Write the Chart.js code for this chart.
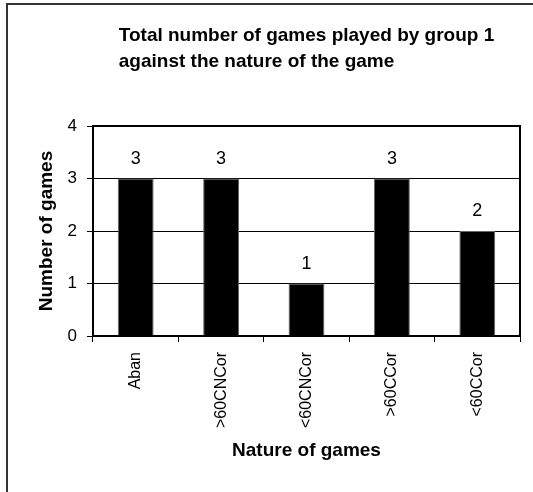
<!DOCTYPE html>
<html>
<head>
<meta charset="utf-8">
<script src="https://cdn.jsdelivr.net/npm/chart.js@4"></script>
<style>
  html, body { margin: 0; padding: 0; background: #fff; }
  #wrap { position: relative; width: 533px; height: 492px; overflow: hidden; }
  #frame { position: absolute; left: 6px; top: 3px; width: 600px; height: 600px;
           border-left: 2px solid #333; border-top: 2px solid #333; }
  #gamesChart { position: absolute; left: 0; top: 0; }
</style>
</head>
<body>
<div id="wrap">
  <div id="frame"></div>
  <canvas id="gamesChart" width="533" height="492"></canvas>
</div>
<script>
const categories = ["Aban", ">60CNCor", "<60CNCor", ">60CCor", "<60CCor"];
const gameCounts = [3, 3, 1, 3, 2];
const yTicks = [0, 1, 2, 3, 4];
const titleLines = ["Total number of games played by group 1", "against the nature of the game"];

const FONT = "'Liberation Sans', Arial, Helvetica, sans-serif";

// title block, left aligned, centred over the plot area
const titlePlugin = {
  id: "blockTitle",
  afterDraw(chart) {
    const { ctx, chartArea } = chart;
    ctx.save();
    ctx.font = "bold 19px " + FONT;
    ctx.fillStyle = "#000";
    ctx.textBaseline = "alphabetic";
    ctx.textAlign = "left";
    const maxW = Math.max(...titleLines.map(t => ctx.measureText(t).width));
    const x0 = (chartArea.left + chartArea.right) / 2 - maxW / 2;
    titleLines.forEach((t, i) => ctx.fillText(t, x0, 41 + i * 26));
    ctx.restore();
  }
};

// value labels above bars
const valueLabels = {
  id: "valueLabels",
  afterDatasetsDraw(chart) {
    const { ctx } = chart;
    const meta = chart.getDatasetMeta(0);
    ctx.save();
    ctx.font = "18px " + FONT;
    ctx.fillStyle = "#000";
    ctx.textAlign = "center";
    ctx.textBaseline = "alphabetic";
    meta.data.forEach((bar, i) => {
      ctx.fillText(String(gameCounts[i]), bar.x, bar.y - 15);
    });
    ctx.restore();
  }
};

// black top/right edge of the plot area
const plotFrame = {
  id: "plotFrame",
  afterDraw(chart) {
    const { ctx, chartArea: a } = chart;
    ctx.save();
    ctx.strokeStyle = "#000";
    ctx.lineWidth = 2;
    ctx.beginPath();
    ctx.moveTo(a.left, a.top);
    ctx.lineTo(a.right, a.top);
    ctx.lineTo(a.right, a.bottom);
    ctx.stroke();
    ctx.restore();
  }
};

const ctx = document.getElementById("gamesChart").getContext("2d");

new Chart(ctx, {
  type: "bar",
  data: {
    labels: categories,
    datasets: [{
      label: "Number of games",
      data: gameCounts,
      backgroundColor: "#000",
      borderColor: "#666",
      borderWidth: 1,
      barPercentage: 0.42,
      categoryPercentage: 1
    }]
  },
  options: {
    responsive: false,
    animation: false,
    layout: { padding: { left: 0, right: 13, top: 126, bottom: 0 } },
    plugins: {
      legend: { display: false },
      title: { display: false },
      tooltip: { enabled: false }
    },
    scales: {
      x: {
        afterFit(scale) { scale.height = 156; },
        grid: { drawOnChartArea: false, drawTicks: true, tickLength: 6, color: "#000" },
        border: { display: true, color: "#000", width: 2 },
        ticks: {
          color: "#000",
          font: { family: FONT, size: 16 },
          minRotation: 90,
          maxRotation: 90,
          autoSkip: false,
          padding: 10
        },
        title: {
          display: true,
          text: "Nature of games",
          color: "#000",
          font: { family: FONT, size: 19, weight: "bold" },
          padding: { top: 0, bottom: 30 }
        }
      },
      y: {
        min: yTicks[0],
        max: yTicks[yTicks.length - 1],
        afterFit(scale) { scale.width = 93; },
        afterBuildTicks(scale) { scale.ticks = yTicks.map(v => ({ value: v })); },
        grid: { color: "#000", lineWidth: 1, tickLength: 6 },
        border: { display: true, color: "#000", width: 2 },
        ticks: {
          color: "#000",
          font: { family: FONT, size: 17 },
          padding: 10
        },
        title: {
          display: true,
          text: "Number of games",
          color: "#000",
          font: { family: FONT, size: 19, weight: "bold" },
          padding: { top: 35, bottom: 0 }
        }
      }
    }
  },
  plugins: [titlePlugin, valueLabels, plotFrame]
});
</script>
</body>
</html>
